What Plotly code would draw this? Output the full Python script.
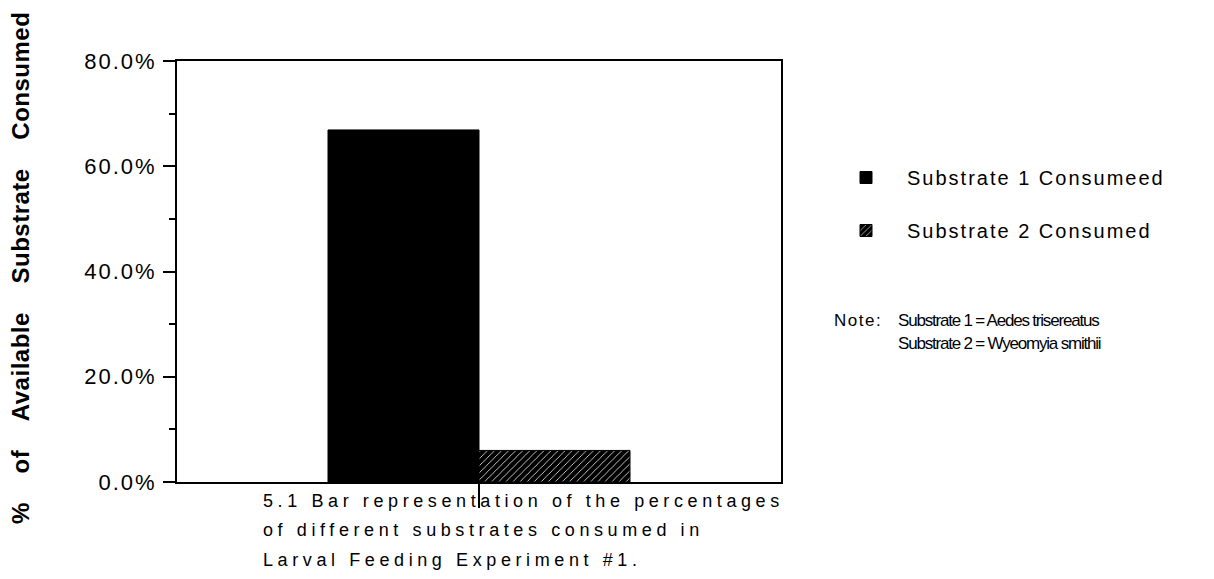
import plotly.graph_objects as go

# ---- data ----
categories = ["Larval Feeding Experiment #1"]
substrate1_pct = [66.9]
substrate2_pct = [6.0]
series_names = ["Substrate 1 Consumeed", "Substrate 2 Consumed"]
y_tick_values = [0, 20, 40, 60, 80]
y_tick_labels = ["0.0%", "20.0%", "40.0%", "60.0%", "80.0%"]
y_title = "%    of    Available    Substrate    Consumed"
caption_lines = [
    "5.1 Bar representation of the percentages",
    "of different substrates consumed in",
    "Larval Feeding Experiment #1.",
]
note_label = "Note:"
note_lines = ["Substrate 1 = Aedes trisereatus", "Substrate 2 = Wyeomyia smithii"]

FONT = "Liberation Sans, Arial, Helvetica, sans-serif"


def spaced(t, px):
    return f'<span style="letter-spacing:{px}px">{t}</span>'


def nb(t):
    return t.replace(" ", "\u00a0")


# plot area in page pixels; the page body adds an 8px offset
OFF = 8
L, R, T, B = 177, 781, 61, 482
W, H = 1214, 579


def px(xp):
    return (xp - L) / (R - L)


def py(yp):
    return (B - yp) / (B - T)


fig = go.Figure()
fig.add_trace(go.Bar(
    x=categories, y=substrate1_pct, name=spaced(series_names[0], 2),
    marker=dict(color="black", line=dict(color="black", width=1)),
    legendgroup="a",
))
fig.add_trace(go.Bar(
    x=categories, y=substrate2_pct, name=spaced(series_names[1], 2),
    marker=dict(color="black", line=dict(color="black", width=1),
                pattern=dict(shape="/", fgcolor="white", bgcolor="black",
                             size=5, solidity=0.15, fillmode="replace")),
    legendgroup="b",
))

annotations = []
annotations.append(dict(
    text="<b>" + spaced(nb(y_title), 0.5) + "</b>", textangle=-90,
    x=px(20), y=py(268), xref="paper", yref="paper",
    xanchor="center", yanchor="middle", showarrow=False,
    font=dict(family=FONT, size=24, color="black"),
))
cap_y = [501, 530, 560]
for line, yy in zip(caption_lines, cap_y):
    annotations.append(dict(
        text=spaced(nb(line), 4.6), x=px(261), y=py(yy), xref="paper", yref="paper",
        xanchor="left", yanchor="middle", showarrow=False,
        font=dict(family=FONT, size=18, color="black"),
    ))
annotations.append(dict(
    text=spaced(note_label, 1.5), x=px(832), y=py(320), xref="paper", yref="paper",
    xanchor="left", yanchor="middle", showarrow=False,
    font=dict(family=FONT, size=17, color="black"),
))
for line, yy in zip(note_lines, [320, 343]):
    annotations.append(dict(
        text=spaced(line, -1.2), x=px(896), y=py(yy), xref="paper", yref="paper",
        xanchor="left", yanchor="middle", showarrow=False,
        font=dict(family=FONT, size=17, color="black"),
    ))

fig.update_layout(
    width=W, height=H,
    margin=dict(l=L - OFF, r=W - (R - OFF), t=T - OFF, b=H - (B - OFF), pad=0),
    paper_bgcolor="white", plot_bgcolor="white",
    barmode="group", bargap=0.5, bargroupgap=0,
    font=dict(family=FONT, color="black"),
    showlegend=True,
    legend=dict(x=px(825), y=py(158), xanchor="left", yanchor="top",
                font=dict(family=FONT, size=20, color="black"),
                traceorder="grouped", tracegroupgap=24, itemwidth=72,
                bgcolor="rgba(0,0,0,0)"),
    annotations=annotations,
)
fig.update_xaxes(
    range=[-0.5, 0.5], showgrid=False, zeroline=False,
    showline=True, linecolor="black", linewidth=2, mirror=True,
    ticks="outside", ticklen=24, tickwidth=1.5, tickcolor="black",
    showticklabels=False,
)
fig.update_yaxes(
    range=[0, 80], showgrid=False, zeroline=False,
    showline=True, linecolor="black", linewidth=2, mirror=True,
    tickmode="array", tickvals=y_tick_values,
    ticktext=[spaced(t, 2) for t in y_tick_labels],
    ticks="outside", ticklen=12, tickwidth=2, tickcolor="black",
    minor=dict(ticks="outside", ticklen=6, tickwidth=2, tickcolor="black", dtick=10),
    tickfont=dict(family=FONT, size=22, color="black"),
    ticklabelstandoff=2,
)

fig.write_html("out.html")
